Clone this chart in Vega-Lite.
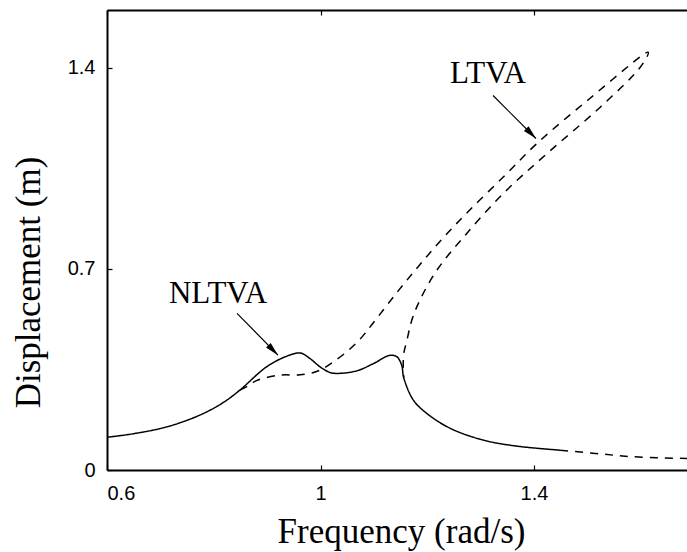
{
  "$schema": "https://vega.github.io/schema/vega-lite/v6.json",
  "autosize": {"type": "none"},
  "padding": {"left": 107, "top": 10, "right": 0, "bottom": 82},
  "width": 580,
  "height": 460,
  "background": "white",
  "view": {"stroke": null},
  "config": {
    "axis": {
      "domainColor": "#000", "domainWidth": 2, "tickColor": "#000", "tickWidth": 1.2, "tickSize": -5,
      "grid": false, "labelFont": "Liberation Sans", "labelFontSize": 20, "labelColor": "#000",
      "titleFont": "Liberation Serif", "titleFontSize": 35, "titleFontWeight": "normal", "titleColor": "#000"
    }
  },
  "datasets": {
    "curves": [
      {"s": "NLTVA", "style": "solid", "i": 1, "f": 0.6, "d": 0.114},
      {"s": "NLTVA", "style": "solid", "i": 2, "f": 0.649, "d": 0.126},
      {"s": "NLTVA", "style": "solid", "i": 3, "f": 0.712, "d": 0.15},
      {"s": "NLTVA", "style": "solid", "i": 4, "f": 0.774, "d": 0.191},
      {"s": "NLTVA", "style": "solid", "i": 5, "f": 0.818, "d": 0.235},
      {"s": "NLTVA", "style": "solid", "i": 6, "f": 0.849, "d": 0.278},
      {"s": "NLTVA", "style": "solid", "i": 7, "f": 0.899, "d": 0.359},
      {"s": "NLTVA", "style": "solid", "i": 8, "f": 0.937, "d": 0.396},
      {"s": "NLTVA", "style": "solid", "i": 9, "f": 0.962, "d": 0.407},
      {"s": "NLTVA", "style": "solid", "i": 10, "f": 0.98, "d": 0.388},
      {"s": "NLTVA", "style": "solid", "i": 11, "f": 0.999, "d": 0.359},
      {"s": "NLTVA", "style": "solid", "i": 12, "f": 1.018, "d": 0.339},
      {"s": "NLTVA", "style": "solid", "i": 13, "f": 1.033, "d": 0.336},
      {"s": "NLTVA", "style": "solid", "i": 14, "f": 1.068, "d": 0.345},
      {"s": "NLTVA", "style": "solid", "i": 15, "f": 1.099, "d": 0.37},
      {"s": "NLTVA", "style": "solid", "i": 16, "f": 1.13, "d": 0.399},
      {"s": "NLTVA", "style": "solid", "i": 17, "f": 1.143, "d": 0.394},
      {"s": "NLTVA", "style": "solid", "i": 18, "f": 1.152, "d": 0.365},
      {"s": "NLTVA", "style": "solid", "i": 19, "f": 1.156, "d": 0.32},
      {"s": "NLTVA", "style": "solid", "i": 20, "f": 1.174, "d": 0.243},
      {"s": "NLTVA", "style": "solid", "i": 21, "f": 1.199, "d": 0.197},
      {"s": "NLTVA", "style": "solid", "i": 22, "f": 1.243, "d": 0.145},
      {"s": "NLTVA", "style": "solid", "i": 23, "f": 1.305, "d": 0.104},
      {"s": "NLTVA", "style": "solid", "i": 24, "f": 1.368, "d": 0.083},
      {"s": "NLTVA", "style": "solid", "i": 25, "f": 1.449, "d": 0.069},
      {"s": "LTVA", "style": "dashed", "i": 1, "f": 0.849, "d": 0.278},
      {"s": "LTVA", "style": "dashed", "i": 2, "f": 0.864, "d": 0.292},
      {"s": "LTVA", "style": "dashed", "i": 3, "f": 0.88, "d": 0.311},
      {"s": "LTVA", "style": "dashed", "i": 4, "f": 0.924, "d": 0.33},
      {"s": "LTVA", "style": "dashed", "i": 5, "f": 0.962, "d": 0.331},
      {"s": "LTVA", "style": "dashed", "i": 6, "f": 0.99, "d": 0.341},
      {"s": "LTVA", "style": "dashed", "i": 7, "f": 1.005, "d": 0.353},
      {"s": "LTVA", "style": "dashed", "i": 8, "f": 1.024, "d": 0.376},
      {"s": "LTVA", "style": "dashed", "i": 9, "f": 1.049, "d": 0.411},
      {"s": "LTVA", "style": "dashed", "i": 10, "f": 1.074, "d": 0.455},
      {"s": "LTVA", "style": "dashed", "i": 11, "f": 1.096, "d": 0.505},
      {"s": "LTVA", "style": "dashed", "i": 12, "f": 1.143, "d": 0.617},
      {"s": "LTVA", "style": "dashed", "i": 13, "f": 1.186, "d": 0.714},
      {"s": "LTVA", "style": "dashed", "i": 14, "f": 1.23, "d": 0.808},
      {"s": "LTVA", "style": "dashed", "i": 15, "f": 1.28, "d": 0.905},
      {"s": "LTVA", "style": "dashed", "i": 16, "f": 1.349, "d": 1.031},
      {"s": "LTVA", "style": "dashed", "i": 17, "f": 1.405, "d": 1.135},
      {"s": "LTVA", "style": "dashed", "i": 18, "f": 1.505, "d": 1.293},
      {"s": "LTVA", "style": "dashed", "i": 19, "f": 1.614, "d": 1.453},
      {"s": "LTVA", "style": "dashed", "i": 20, "f": 1.599, "d": 1.401},
      {"s": "LTVA", "style": "dashed", "i": 21, "f": 1.524, "d": 1.262},
      {"s": "LTVA", "style": "dashed", "i": 22, "f": 1.424, "d": 1.1},
      {"s": "LTVA", "style": "dashed", "i": 23, "f": 1.342, "d": 0.961},
      {"s": "LTVA", "style": "dashed", "i": 24, "f": 1.268, "d": 0.81},
      {"s": "LTVA", "style": "dashed", "i": 25, "f": 1.218, "d": 0.695},
      {"s": "LTVA", "style": "dashed", "i": 26, "f": 1.186, "d": 0.59},
      {"s": "LTVA", "style": "dashed", "i": 27, "f": 1.171, "d": 0.521},
      {"s": "LTVA", "style": "dashed", "i": 28, "f": 1.162, "d": 0.452},
      {"s": "LTVA", "style": "dashed", "i": 29, "f": 1.156, "d": 0.405},
      {"s": "LTVA", "style": "dashed", "i": 30, "f": 1.155, "d": 0.359},
      {"s": "LTVA", "style": "dashed", "i": 31, "f": 1.156, "d": 0.32},
      {"s": "LTVAtail", "style": "dashed", "i": 1, "f": 1.449, "d": 0.069},
      {"s": "LTVAtail", "style": "dashed", "i": 2, "f": 1.524, "d": 0.056},
      {"s": "LTVAtail", "style": "dashed", "i": 3, "f": 1.586, "d": 0.046},
      {"s": "LTVAtail", "style": "dashed", "i": 4, "f": 1.6866, "d": 0.04}
    ],
    "arrows": [
      {"name": "NLTVA", "f1": 0.8436, "d1": 0.545, "f2": 0.9204, "d2": 0.3994, "ang": 135.6},
      {"name": "LTVA", "f1": 1.3232, "d1": 1.3025, "f2": 1.4037, "d2": 1.1532, "ang": 135}
    ],
    "labels": [
      {"name": "NLTVA", "f": 0.808, "d": 0.58},
      {"name": "LTVA", "f": 1.3138, "d": 1.3477}
    ]
  },
  "resolve": {"axis": {"x": "independent", "y": "independent"}},
  "layer": [
    {
      "data": {"name": "curves"},
      "mark": {"type": "line", "color": "#000", "strokeWidth": 1.5, "interpolate": "catmull-rom"},
      "encoding": {
        "x": {"field": "f", "type": "quantitative", "scale": {"domain": [0.6, 1.6866], "nice": false, "zero": false},
              "axis": {"orient": "bottom", "values": [0.6, 1, 1.4], "format": "~g", "title": "Frequency (rad/s)", "labelPadding": 18,
                       "labelFont": "Liberation Sans", "labelFontSize": 20,
                       "titleX": 294, "titleY": 72, "titleBaseline": "alphabetic", "titleAnchor": null, "titleAlign": "center"}},
        "y": {"field": "d", "type": "quantitative", "scale": {"domain": [0, 1.6], "nice": false, "zero": false},
              "axis": {"values": [0, 0.7, 1.4], "format": "~g", "title": "Displacement (m)", "labelPadding": 17,
                       "labelFont": "Liberation Sans", "labelFontSize": 20,
                       "titleX": -68, "titleY": 272, "titleAngle": -90, "titleBaseline": "alphabetic", "titleAlign": "center"}},
        "detail": {"field": "s"},
        "order": {"field": "i", "type": "quantitative"},
        "strokeDash": {"field": "style", "type": "nominal", "scale": {"domain": ["solid", "dashed"], "range": [[1, 0], [8, 7]]}, "legend": null}
      }
    },
    {
      "data": {"name": "arrows"},
      "mark": {"type": "rule", "color": "#000", "strokeWidth": 1.2},
      "encoding": {
        "x": {"field": "f1", "type": "quantitative", "scale": {"domain": [0.6, 1.6866], "nice": false, "zero": false},
              "axis": {"orient": "top", "values": [0.6, 1, 1.4], "labels": false, "title": null}},
        "y": {"field": "d1", "type": "quantitative", "scale": {"domain": [0, 1.6], "nice": false, "zero": false}, "axis": null},
        "x2": {"field": "f2"},
        "y2": {"field": "d2"}
      }
    },
    {
      "data": {"name": "arrows"},
      "mark": {"type": "point", "shape": "M0,0L-0.55,2.3L0.55,2.3Z", "filled": true, "color": "#000", "opacity": 1, "size": 144},
      "encoding": {
        "x": {"field": "f2", "type": "quantitative", "scale": {"domain": [0.6, 1.6866], "nice": false, "zero": false}, "axis": null},
        "y": {"field": "d2", "type": "quantitative", "scale": {"domain": [0, 1.6], "nice": false, "zero": false}, "axis": null},
        "angle": {"field": "ang", "type": "quantitative", "scale": null}
      }
    },
    {
      "data": {"name": "labels"},
      "mark": {"type": "text", "font": "Liberation Serif", "fontSize": 31, "color": "#000", "baseline": "alphabetic", "align": "center"},
      "encoding": {
        "x": {"field": "f", "type": "quantitative", "scale": {"domain": [0.6, 1.6866], "nice": false, "zero": false}, "axis": null},
        "y": {"field": "d", "type": "quantitative", "scale": {"domain": [0, 1.6], "nice": false, "zero": false}, "axis": null},
        "text": {"field": "name"}
      }
    }
  ]
}
